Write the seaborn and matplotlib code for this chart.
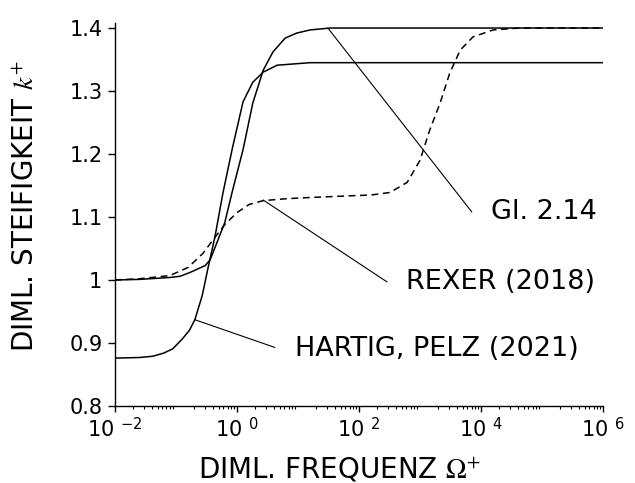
import numpy as np
import pandas as pd
import matplotlib
matplotlib.use("Agg")
import matplotlib.pyplot as plt
import seaborn as sns
from matplotlib.ticker import LogLocator, FixedLocator, NullFormatter

# ---- data (log10 of frequency, stiffness) ----
gl_logx = [-2.0, -1.6, -1.1, -0.93, -0.77, -0.61, -0.52, -0.44, -0.33, -0.2, -0.07,
           0.1, 0.26, 0.43, 0.59, 0.79, 0.98, 1.2, 1.53, 3.0, 6.0]
gl_k = [1.0, 1.001, 1.004, 1.006, 1.012, 1.019, 1.023, 1.032, 1.059, 1.091, 1.143,
        1.207, 1.281, 1.333, 1.362, 1.384, 1.392, 1.397, 1.4, 1.4, 1.4]

rexer_logx = [-2.0, -1.6, -1.1, -0.8, -0.56, -0.39, -0.2, 0.0, 0.2, 0.43, 0.8, 1.2, 1.69,
              2.2, 2.51, 2.79, 3.0, 3.16, 3.33, 3.49, 3.66, 3.87, 4.2, 4.64, 6.0]
rexer_k = [1.0, 1.002, 1.007, 1.02, 1.042, 1.064, 1.088, 1.107, 1.12, 1.126, 1.129, 1.131, 1.133,
           1.135, 1.139, 1.155, 1.19, 1.238, 1.281, 1.329, 1.365, 1.386, 1.397, 1.4, 1.4]

hp_logx = [-2.0, -1.6, -1.38, -1.2, -1.05, -0.9, -0.78, -0.69, -0.57, -0.47, -0.36, -0.23, -0.08,
           0.1, 0.26, 0.43, 0.66, 1.2, 2.0, 6.0]
hp_k = [0.876, 0.877, 0.879, 0.884, 0.891, 0.906, 0.92, 0.937, 0.975, 1.021, 1.069, 1.138, 1.207,
        1.283, 1.314, 1.330, 1.341, 1.345, 1.345, 1.345]

y_ticks = [0.8, 0.9, 1.0, 1.1, 1.2, 1.3, 1.4]
y_tick_labels = ["0.8", "0.9", "1", "1.1", "1.2", "1.3", "1.4"]
x_tick_exps = [-2, 0, 2, 4, 6]

labels = ["Gl. 2.14", "REXER (2018)", "HARTIG, PELZ (2021)"]
# leader lines: start on curve, end near label (log10 x, k)
leader_start = [(1.49, 1.4), (0.43, 1.127), (-0.69, 0.937)]
leader_end = [(3.85, 1.108), (2.46, 0.997), (0.62, 0.893)]
# label anchor (left edge, vertical centre) in (log10 x, k)
label_pos = [(4.17, 1.108), (2.77, 0.997), (0.95, 0.890)]

# ---- style ----
sns.set_style("ticks")
plt.rcParams["font.family"] = ["DejaVu Sans"]
plt.rcParams["mathtext.fontset"] = "stix"
for key in ["text.color", "axes.labelcolor", "xtick.color", "ytick.color", "axes.edgecolor"]:
    plt.rcParams[key] = "black"

fig = plt.figure(figsize=(6.35, 4.83), dpi=100)
ax = fig.add_axes([0.181, 0.1594, 0.7686, 0.7930])

lw = 1.1
sns.lineplot(x=10 ** np.array(gl_logx), y=gl_k, ax=ax, color="black", lw=lw, sort=False)
sns.lineplot(x=10 ** np.array(hp_logx), y=hp_k, ax=ax, color="black", lw=lw, sort=False)
sns.lineplot(x=10 ** np.array(rexer_logx), y=rexer_k, ax=ax, color="black", lw=lw,
             linestyle=(0, (4.5, 3.0)), sort=False)

ax.set_xscale("log")
ax.set_xlim(1e-2, 1e6)
ax.set_ylim(0.8, 1.408)

ax.set_yticks(y_ticks)
ax.set_yticklabels(y_tick_labels, fontsize=15)
ax.xaxis.set_major_locator(FixedLocator([10.0 ** e for e in x_tick_exps]))
ax.set_xticklabels(["10 $^{\\mathregular{%d}}$" % e for e in x_tick_exps], fontsize=15)
ax.xaxis.set_minor_locator(LogLocator(base=10, subs=np.arange(2, 10), numticks=100))
ax.xaxis.set_minor_formatter(NullFormatter())

ax.tick_params(axis="y", direction="out", length=5, width=1, pad=4)
ax.tick_params(axis="x", which="major", direction="out", length=4, width=1, pad=3)
ax.tick_params(axis="x", which="minor", direction="out", length=2.5, width=0.8)

for s in ["top", "right"]:
    ax.spines[s].set_visible(False)
for s in ["left", "bottom"]:
    ax.spines[s].set_linewidth(1.0)

ax.set_xlabel("DIML. FREQUENZ $\\Omega^{+}$", fontsize=20)
ax.set_ylabel("DIML. STEIFIGKEIT $k^{+}$", fontsize=20)
ax.xaxis.set_label_coords((340 - 115) / 488, -(469 - 406) / 383)
ax.yaxis.set_label_coords(-(115 - 25) / 488, (406 - 206) / 383)
ax.xaxis.label.set_va("center")
ax.yaxis.label.set_va("center")

for (sx, sy), (ex, ey) in zip(leader_start, leader_end):
    ax.annotate("", xy=(10 ** sx, sy), xytext=(10 ** ex, ey),
                arrowprops=dict(arrowstyle="-", color="black", lw=0.8,
                                shrinkA=0, shrinkB=0))
for lab, (tx, ty) in zip(labels, label_pos):
    ax.text(10 ** tx, ty, lab, fontsize=19.5, va="center", ha="left")

fig.savefig("out.png", dpi=100)
